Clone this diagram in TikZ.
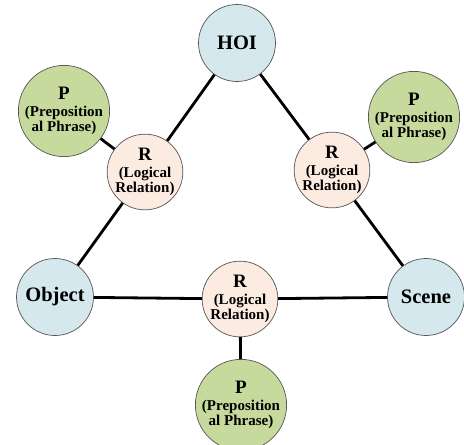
\documentclass[tikz,border=0pt]{standalone}
\usepackage{fontspec}
\setmainfont{Liberation Serif}
\usepackage{xcolor}
\usepackage{tikz}

\definecolor{entblue}{HTML}{D4E8EE}
\definecolor{relpeach}{HTML}{FCEBE0}
\definecolor{prepgreen}{HTML}{C7DA9E}
\definecolor{rimgray}{HTML}{555555}

\begin{document}
\begin{tikzpicture}[x=1pt, y=-1pt, font=\bfseries,
  every node/.style={circle, draw=rimgray, line width=0.7pt, inner sep=0pt, align=center},
  ent/.style={fill=entblue, minimum size=77pt, font=\bfseries\fontsize{20.5}{22}\selectfont},
  rel/.style={fill=relpeach, minimum size=75pt, font=\bfseries\fontsize{15}{15.5}\selectfont},
  prep/.style={fill=prepgreen, minimum size=77pt, font=\bfseries\fontsize{15}{15.5}\selectfont},
  link/.style={line width=2.8pt, black}]

%---------------- 畫布 ----------------%
\useasboundingbox (0,0) rectangle (464,445);
\def\head#1{{\fontsize{19}{19}\selectfont #1}\\[1pt]} % R / P 大字

%---------------- 三個實體 ----------------%
\node[ent] (hoi)    at (237,43)  {HOI};
\node[ent] (object) at (55,297)  {Object};
\node[ent] (scene)  at (426,297) {Scene};

%---------------- 邏輯關係 R ----------------%
\node[rel] (relL) at (145,172) {\head{R}(Logical\\Relation)};
\node[rel] (relR) at (332,170) {\head{R}(Logical\\Relation)};
\node[rel] (relM) at (240,299) {\head{R}(Logical\\Relation)};

%---------------- 介系詞片語 P ----------------%
\node[prep] (prepL) at (64,111)  {\head{P}(Preposition\\al Phrase)};
\node[prep] (prepR) at (414,117) {\head{P}(Preposition\\al Phrase)};
\node[prep] (prepM) at (241,405) {\head{P}(Preposition\\al Phrase)};

%---------------- 連線 ----------------%
\foreach \a/\b in {hoi/relL, relL/object, hoi/relR, relR/scene,
                   object/relM, relM/scene, prepL/relL, prepR/relR, relM/prepM} {
  \draw[link] (\a) -- (\b);
}

\end{tikzpicture}
\end{document}
